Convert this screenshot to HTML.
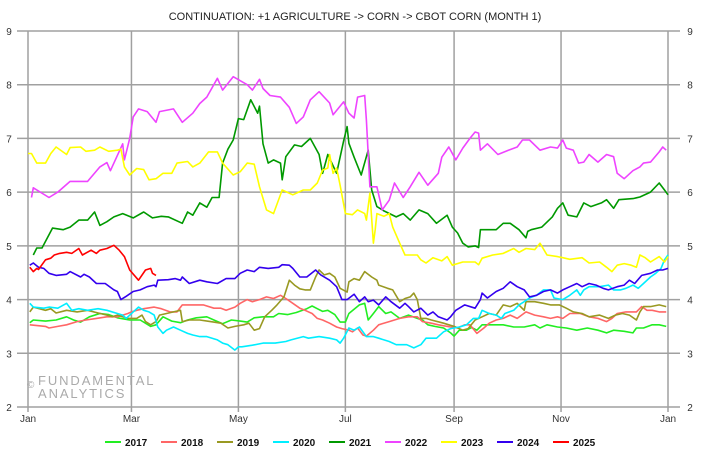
<!DOCTYPE html>
<html><head><meta charset="utf-8"><style>
body{margin:0;background:#fff;}
svg{display:block;font-family:"Liberation Sans",sans-serif;}
</style></head><body>
<svg id="chart" width="706" height="454" viewBox="0 0 706 454">
<text x="355" y="20" text-anchor="middle" font-size="11" fill="#222">CONTINUATION: +1 AGRICULTURE -&gt; CORN -&gt; CBOT CORN (MONTH 1)</text>
<g id="grid"></g>
<g fill="#aaa" font-size="13" letter-spacing="1.9">
<text x="27" y="388" font-size="10">©</text>
<text x="38" y="385">FUNDAMENTAL</text>
<text x="38" y="398">ANALYTICS</text>
</g>
<g id="series"></g>
<g id="legend"></g>
</svg>
<script>
const yTicks=[2,3,4,5,6,7,8,9];
const monthLabels=["Jan","Mar","May","Jul","Sep","Nov","Jan"];
const monthDays=[0,59,120,181,243,304,365];
const years=["2017","2018","2019","2020","2021","2022","2023","2024","2025"];
const colors=["#22ee22","#ff6666","#999922","#00eeff","#009900","#ee44ff","#ffff00","#3300ee","#ff0000"];

const d2017=[1,3,10,16,22,26,30,35,41,46,51,58,64,70,73,77,82,87,91,96,102,106,111,116,121,125,129,134,140,143,148,153,159,162,165,168,171,175,178,181,183,189,192,194,197,200,204,207,212,217,222,225,228,232,237,241,243,246,250,253,256,259,265,271,277,283,289,292,296,302,307,313,319,325,330,334,340,345,347,351,356,360,364];
const v2017=[3.57,3.62,3.6,3.62,3.68,3.62,3.58,3.68,3.74,3.72,3.66,3.62,3.62,3.5,3.53,3.68,3.6,3.57,3.62,3.66,3.68,3.62,3.55,3.62,3.6,3.58,3.66,3.68,3.68,3.74,3.72,3.76,3.83,3.88,3.83,3.78,3.8,3.72,3.58,3.58,3.74,3.9,3.93,3.62,3.74,3.87,3.74,3.77,3.65,3.71,3.65,3.62,3.53,3.5,3.47,3.38,3.32,3.43,3.43,3.48,3.43,3.53,3.53,3.53,3.49,3.49,3.53,3.47,3.53,3.49,3.47,3.43,3.47,3.43,3.38,3.43,3.41,3.38,3.47,3.47,3.53,3.53,3.5];

const d2018=[1,10,12,17,22,28,33,39,45,51,57,59,62,66,72,76,81,85,88,94,100,106,110,113,118,121,125,128,132,136,140,144,147,151,155,158,162,165,168,172,176,179,183,185,188,191,193,197,200,206,212,217,222,225,230,234,241,245,249,252,256,260,263,267,271,275,279,284,289,294,298,302,305,309,315,320,325,330,333,336,341,347,350,353,356,360,364];
const v2018=[3.53,3.5,3.47,3.5,3.53,3.59,3.62,3.65,3.68,3.68,3.74,3.77,3.8,3.83,3.86,3.83,3.77,3.77,3.9,3.9,3.9,3.84,3.84,3.8,3.86,3.93,4.0,3.96,4.0,4.05,4.02,4.08,4.02,3.93,3.84,3.8,3.74,3.65,3.62,3.56,3.49,3.46,3.43,3.4,3.47,3.34,3.32,3.43,3.53,3.59,3.65,3.68,3.68,3.59,3.56,3.53,3.49,3.47,3.53,3.53,3.37,3.47,3.56,3.62,3.65,3.71,3.65,3.77,3.71,3.68,3.65,3.68,3.65,3.74,3.74,3.68,3.65,3.59,3.65,3.74,3.77,3.77,3.87,3.8,3.8,3.77,3.77];

const d2019=[1,3,10,13,16,22,28,34,40,45,48,51,57,62,65,67,70,73,75,79,83,87,88,92,98,104,110,114,118,123,126,129,132,135,139,142,146,149,152,155,158,161,164,166,169,172,175,178,182,183,186,189,192,196,199,200,205,208,212,215,218,220,222,224,227,230,237,240,243,248,251,255,259,263,267,271,275,279,283,284,289,294,298,303,307,311,316,320,326,331,335,339,343,347,349,351,355,360,364];
const v2019=[3.77,3.86,3.8,3.83,3.75,3.8,3.77,3.8,3.75,3.71,3.68,3.71,3.65,3.65,3.71,3.59,3.53,3.59,3.71,3.74,3.77,3.8,3.59,3.62,3.62,3.59,3.56,3.47,3.5,3.53,3.56,3.43,3.46,3.68,3.8,3.9,4.05,4.36,4.27,4.2,4.18,4.18,4.42,4.55,4.46,4.49,4.42,4.21,4.14,4.33,4.39,4.36,4.52,4.42,4.36,4.27,4.21,4.18,3.96,4.02,4.05,4.12,4.0,3.65,3.65,3.62,3.56,3.53,3.5,3.43,3.46,3.62,3.68,3.74,3.71,3.9,3.87,3.93,3.8,3.96,3.96,3.93,3.9,3.9,3.84,3.77,3.74,3.68,3.71,3.65,3.71,3.74,3.71,3.62,3.77,3.87,3.87,3.9,3.87];

const d2020=[1,3,9,12,17,22,25,29,34,40,45,51,54,56,60,63,66,69,72,74,77,79,83,87,91,94,98,102,108,111,114,118,120,122,128,134,141,147,150,157,160,166,172,176,178,180,183,186,189,193,197,200,206,210,216,220,224,227,233,237,241,246,250,254,257,259,263,267,270,272,277,280,283,286,290,294,298,300,305,309,313,315,317,320,326,331,334,338,341,345,348,351,355,358,361,363,365];
const v2020=[3.93,3.86,3.84,3.86,3.84,3.93,3.8,3.83,3.8,3.83,3.8,3.74,3.71,3.65,3.77,3.86,3.8,3.77,3.71,3.49,3.37,3.43,3.49,3.43,3.37,3.34,3.31,3.31,3.25,3.19,3.16,3.06,3.12,3.12,3.15,3.19,3.19,3.22,3.25,3.31,3.28,3.31,3.28,3.25,3.19,3.28,3.47,3.43,3.49,3.31,3.31,3.28,3.22,3.16,3.16,3.1,3.16,3.28,3.28,3.4,3.46,3.49,3.53,3.65,3.65,3.8,3.74,3.71,3.65,3.74,3.8,3.9,3.96,4.03,4.08,4.18,4.18,4.03,4.0,4.08,4.18,4.08,4.18,4.24,4.24,4.27,4.18,4.18,4.21,4.27,4.21,4.3,4.42,4.49,4.58,4.74,4.83];

const d2021=[3,5,8,14,20,24,29,34,38,41,45,49,54,60,66,71,76,80,88,91,94,98,102,105,109,111,114,117,120,123,127,131,132,134,137,140,144,145,147,152,156,161,166,168,171,176,180,182,183,186,190,194,196,199,203,210,214,218,223,228,233,239,242,245,248,251,255,257,258,262,267,271,275,280,284,285,287,293,299,302,305,308,313,317,321,327,330,334,337,345,349,355,360,363,365];
const v2021=[4.83,4.96,4.96,5.33,5.3,5.35,5.48,5.48,5.63,5.38,5.45,5.54,5.6,5.52,5.63,5.52,5.55,5.54,5.42,5.63,5.57,5.8,5.72,5.9,5.9,6.54,6.8,6.97,7.37,7.35,7.72,7.47,7.6,6.9,6.54,6.6,6.54,6.23,6.66,6.88,6.85,7.0,6.7,6.35,6.7,6.35,6.95,7.22,6.91,6.65,6.32,6.78,6.04,5.73,5.65,5.54,5.6,5.48,5.67,5.6,5.42,5.57,5.35,5.24,5.05,4.98,5.0,4.97,5.3,5.3,5.3,5.42,5.42,5.3,5.15,5.27,5.3,5.35,5.54,5.7,5.8,5.57,5.54,5.8,5.73,5.8,5.86,5.7,5.86,5.88,5.91,6.0,6.17,6.04,5.95];

const d2022=[2,3,12,17,24,34,41,45,47,54,55,58,60,63,68,73,75,83,88,94,98,102,108,111,117,125,128,132,134,138,144,149,153,157,161,166,172,174,180,183,186,188,192,193,195,199,202,206,209,214,218,223,228,234,236,240,244,248,252,255,257,258,262,268,274,279,282,286,292,298,302,305,307,311,314,317,320,325,330,334,336,340,345,349,351,355,360,362,364];
const v2022=[5.9,6.08,5.9,6.0,6.2,6.2,6.47,6.55,6.4,6.9,6.6,7.0,7.4,7.55,7.5,7.3,7.5,7.55,7.3,7.47,7.65,7.77,8.12,7.9,8.15,8.0,7.9,8.1,7.93,7.8,7.77,7.58,7.28,7.4,7.72,7.87,7.66,7.44,7.68,7.47,7.38,7.77,7.8,7.34,6.1,6.1,5.67,5.85,6.17,5.9,6.1,6.37,6.13,6.35,6.65,6.84,6.6,6.82,7.0,7.12,7.1,6.78,6.9,6.7,6.78,6.84,6.97,6.97,6.78,6.84,6.82,6.97,6.82,6.78,6.54,6.56,6.7,6.56,6.7,6.66,6.35,6.25,6.4,6.47,6.54,6.56,6.75,6.84,6.78];

const d2023=[0,2,5,10,13,16,22,24,30,33,38,41,46,51,53,55,58,62,66,69,73,77,82,85,91,94,98,103,108,111,117,121,125,129,132,136,140,145,151,157,161,165,168,171,172,174,176,178,181,185,188,192,193,195,197,198,199,203,206,208,212,215,222,224,227,231,236,239,242,248,255,257,259,265,271,277,280,284,289,292,296,302,305,309,316,320,326,330,333,336,340,344,347,349,352,355,360,363,365];
const v2023=[6.72,6.72,6.54,6.54,6.72,6.84,6.7,6.83,6.84,6.76,6.78,6.84,6.76,6.78,6.8,6.47,6.32,6.44,6.42,6.23,6.25,6.35,6.35,6.54,6.57,6.47,6.54,6.75,6.75,6.54,6.32,6.38,6.54,6.52,6.1,5.67,5.6,6.04,5.95,6.04,6.04,6.17,6.41,6.45,6.7,6.35,6.45,6.13,5.6,5.58,5.67,5.6,5.48,5.98,5.05,5.3,5.6,5.55,5.6,5.35,5.05,4.83,4.83,4.74,4.68,4.78,4.72,4.8,4.64,4.7,4.7,4.65,4.77,4.83,4.86,4.95,4.88,4.95,4.93,5.05,4.83,4.8,4.78,4.75,4.78,4.68,4.7,4.6,4.52,4.64,4.67,4.64,4.6,4.83,4.78,4.7,4.8,4.7,4.8];

const d2024=[1,3,6,9,12,16,22,24,30,32,35,39,44,49,51,53,56,60,64,68,72,73,74,80,84,87,88,92,98,102,108,113,118,121,125,129,132,137,143,145,149,151,155,159,164,167,172,176,179,182,186,189,192,194,197,200,204,207,212,215,217,220,224,228,231,234,239,241,244,249,255,258,259,262,267,271,275,279,283,286,290,294,298,302,305,309,313,316,320,324,328,331,336,340,343,346,350,355,359,362,365];
const v2024=[4.64,4.68,4.6,4.58,4.49,4.45,4.47,4.52,4.42,4.47,4.42,4.3,4.3,4.18,4.15,4.0,4.06,4.15,4.18,4.24,4.27,4.24,4.36,4.37,4.39,4.36,4.42,4.3,4.36,4.33,4.3,4.39,4.39,4.49,4.55,4.52,4.6,4.58,4.6,4.65,4.64,4.58,4.42,4.42,4.55,4.46,4.36,4.24,4.0,4.0,4.1,3.96,4.05,3.96,3.99,3.9,4.05,3.96,3.84,3.93,3.87,3.77,3.84,3.71,3.77,3.68,3.62,3.68,3.8,3.9,3.84,4.0,4.12,4.03,4.15,4.21,4.33,4.24,4.18,4.05,4.08,4.15,4.18,4.12,4.18,4.24,4.3,4.24,4.3,4.27,4.21,4.18,4.24,4.27,4.36,4.3,4.45,4.49,4.55,4.55,4.58];

const d2025=[1,3,5,6,10,13,15,18,22,25,29,31,36,39,41,45,49,52,55,58,63,67,70,71,73];
const v2025=[4.6,4.52,4.58,4.56,4.74,4.77,4.83,4.86,4.88,4.86,4.95,4.83,4.92,4.86,4.92,4.95,5.01,4.92,4.8,4.55,4.36,4.55,4.58,4.49,4.45];

const seriesDays=[d2017,d2018,d2019,d2020,d2021,d2022,d2023,d2024,d2025];
const seriesVals=[v2017,v2018,v2019,v2020,v2021,v2022,v2023,v2024,v2025];

const NS="http://www.w3.org/2000/svg";
const X0=28,X1=668,Y0=407,Y1=31;
function xScale(d){return X0+d/365*(X1-X0);}
function yScale(v){return Y0-(v-2)/7*(Y0-Y1);}
function mk(tag,attrs,parent){const e=document.createElementNS(NS,tag);for(const k in attrs)e.setAttribute(k,attrs[k]);parent.appendChild(e);return e;}

const grid=document.getElementById('grid');
yTicks.forEach(t=>{
  const y=yScale(t);
  const l=mk('line',{x1:17,x2:680,y1:y,y2:y,stroke:'#a0a0a0','stroke-width':1.5},grid);
  
  
  const a=mk('text',{x:9,y:y+4,'font-size':10,fill:'#333','text-anchor':'middle'},grid);
  a.textContent=t;
  
  
  const b=mk('text',{x:690,y:y+4,'font-size':10,fill:'#333','text-anchor':'middle'},grid);
  b.textContent=t;
  
  
});
monthDays.forEach((d,i)=>{
  const x=xScale(d);
  const l=mk('line',{x1:x,x2:x,y1:Y1,y2:Y0+5,stroke:'#a0a0a0','stroke-width':1.5},grid);
  
  
  const t=mk('text',{x:x,y:422,'font-size':10,fill:'#333','text-anchor':'middle'},grid);
  t.textContent=monthLabels[i];
  
  
});

const sg=document.getElementById('series');
years.forEach((yr,i)=>{
  const ds=seriesDays[i],vs=seriesVals[i];
  const pts=ds.map((d,j)=>xScale(d).toFixed(1)+','+yScale(vs[j]).toFixed(1)).join(' ');
  const p=mk('polyline',{points:pts,fill:'none',stroke:colors[i],'stroke-width':1.6,'stroke-linejoin':'round'},sg);
  
  
});

const lg=document.getElementById('legend');
years.forEach((yr,i)=>{
  const x=105+i*56;
  const g=mk('g',{},lg);
  
  
  mk('line',{x1:x,x2:x+16,y1:442,y2:442,stroke:colors[i],'stroke-width':2},g);
  const t=mk('text',{x:x+20,y:446,'font-size':10,'font-weight':'bold',fill:'#111'},g);
  t.textContent=yr;
});
</script>
</body></html>
